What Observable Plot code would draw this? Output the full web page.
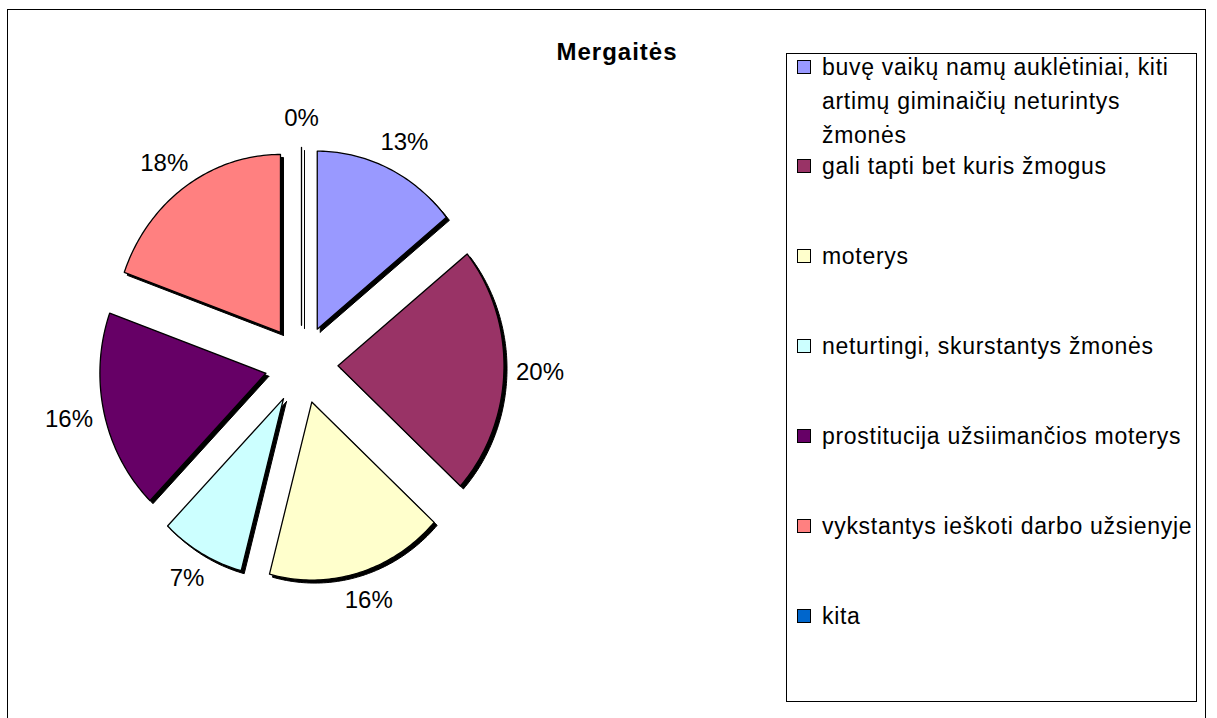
<!DOCTYPE html>
<html>
<head>
<meta charset="utf-8">
<script src="https://cdn.jsdelivr.net/npm/d3@7"></script>
<script src="https://cdn.jsdelivr.net/npm/@observablehq/plot@0.6"></script>
<style>
  body { margin: 0; background: #fff; font-family: "Liberation Sans", Arial, sans-serif; }
  #wrap { position: relative; width: 1217px; height: 718px; overflow: hidden; }
  #frame { position: absolute; left: 7px; top: 9px; width: 1199px; height: 760px; border: 1px solid #000; box-sizing: border-box; }
  #title { position: absolute; left: 467px; width: 300px; top: 37px; text-align: center; font-weight: bold; font-size: 24px; letter-spacing: 1px; line-height: 30px; }
  #legend { position: absolute; left: 786px; top: 53px; width: 411px; height: 649px; border: 1px solid #000; box-sizing: border-box; }
  #chart { position: absolute; left: 0; top: 0; }
  .sw { position: absolute; left: 797px; width: 14px; height: 14px; border: 1px solid #000; box-sizing: border-box; }
  .lt { position: absolute; left: 822px; width: 375px; font-size: 23px; letter-spacing: 0.7px; line-height: 34px; white-space: pre; color: #000; }
</style>
</head>
<body>
<div id="wrap">
  <div id="frame"></div>
  <div id="chart"></div>
  <div id="title">Mergaitės</div>
  <div id="legend"></div>
</div>
<script>
// ---- data ----
const categories = [
  "buvę vaikų namų auklėtiniai, kiti artimų giminaičių neturintys žmonės",
  "gali tapti bet kuris žmogus",
  "moterys",
  "neturtingi, skurstantys žmonės",
  "prostitucija užsiimančios moterys",
  "vykstantys ieškoti darbo užsienyje",
  "kita"
];
const legendLabels = [
  "buvę vaikų namų auklėtiniai, kiti\nartimų giminaičių neturintys\nžmonės",
  "gali tapti bet kuris žmogus",
  "moterys",
  "neturtingi, skurstantys žmonės",
  "prostitucija užsiimančios moterys",
  "vykstantys ieškoti darbo užsienyje",
  "kita"
];
const values = [12.8, 20.4, 15.6, 7.4, 16.4, 17.6, 0];
const pctLabels = ["13%", "20%", "16%", "7%", "16%", "18%", "0%"];
const colors = ["#9999FF", "#993366", "#FFFFCC", "#CCFFFF", "#660066", "#FF8080", "#0066CC"];

// ---- geometry (unit radius pie, exploded) ----
const W = 1217, H = 718;
const cx = 301, cy = 364, sx = 166, sy = 178;   // pixel placement of the pie
const explode = 0.22, labelR = 1.32;

const arcs = d3.pie().sort(null).value(d => d)(values);
const slicePts = [];
const labelPts = [];
arcs.forEach((a, i) => {
  const mid = (a.startAngle + a.endAngle) / 2;
  const vx = explode * Math.sin(mid), vy = explode * Math.cos(mid);
  const cat = categories[i];
  slicePts.push({cat, x: vx, y: vy});
  const n = Math.max(1, Math.ceil((a.endAngle - a.startAngle) / (Math.PI / 180)));
  for (let k = 0; k <= n; k++) {
    const t = a.startAngle + (a.endAngle - a.startAngle) * k / n;
    slicePts.push({cat, x: vx + Math.sin(t), y: vy + Math.cos(t)});
  }
  slicePts.push({cat, x: vx, y: vy});
  const txt = pctLabels[i];
  const halfW = txt.length * 6.5, halfH = 11;
  labelPts.push({
    text: txt,
    x: labelR * Math.sin(mid) + halfW * Math.sin(mid) / sx,
    y: labelR * Math.cos(mid) + halfH * Math.cos(mid) / sy
  });
});

const chart = Plot.plot({
  width: W, height: H, margin: 0,
  x: {domain: [-cx / sx, (W - cx) / sx], axis: null},
  y: {domain: [(cy - H) / sy, cy / sy], axis: null},
  color: {domain: categories, range: colors},
  style: {background: "transparent", fontFamily: "Liberation Sans, Arial, sans-serif"},
  marks: [
    Plot.line(slicePts, {x: "x", y: "y", z: "cat", fill: "#000", stroke: "#000", strokeWidth: 1, dx: 3, dy: 3}),
    Plot.line(slicePts, {x: "x", y: "y", z: "cat", fill: "cat", stroke: "#000", strokeWidth: 1.3}),
    Plot.text(labelPts, {x: "x", y: "y", text: "text", fontSize: 24, fill: "#000"})
  ]
});
document.getElementById("chart").appendChild(chart);

// ---- legend ----
const wrap = document.getElementById("wrap");
const firstLineY = 67, itemStartY = 166, itemStep = 90;
legendLabels.forEach((lab, i) => {
  const yc = i === 0 ? firstLineY : itemStartY + (i - 1) * itemStep;
  const sw = document.createElement("div");
  sw.className = "sw";
  sw.style.top = (yc - 7) + "px";
  sw.style.background = colors[i];
  wrap.appendChild(sw);
  const t = document.createElement("div");
  t.className = "lt";
  t.style.top = (yc - 17) + "px";
  t.textContent = lab;
  wrap.appendChild(t);
});
</script>
</body>
</html>
